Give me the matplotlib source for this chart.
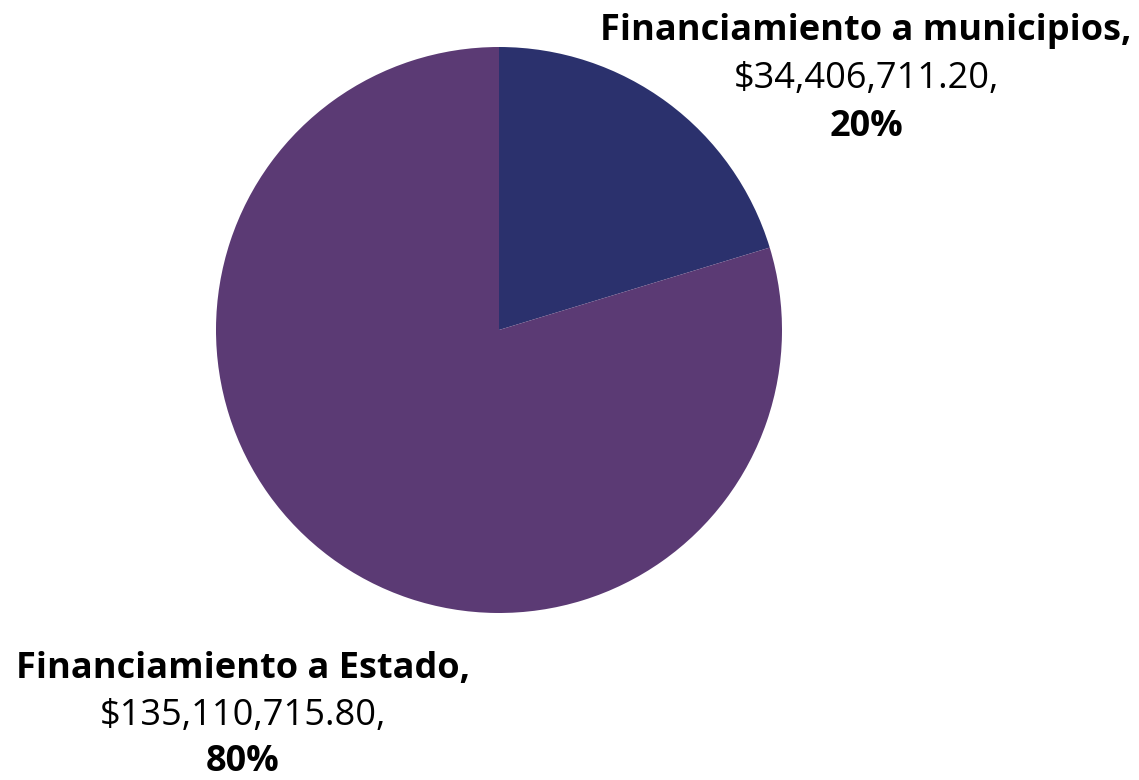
import matplotlib.pyplot as plt

# data
labels = ['Financiamiento a municipios', 'Financiamiento a Estado']
values = [34406711.20, 135110715.80]
colors = ['#2B316D', '#5B3A74']

W, H = 1139, 780
fig = plt.figure(figsize=(W / 100, H / 100), dpi=100)

# pie centre and radius in pixels
cx, cy, r = 499, 330, 283
ax = fig.add_axes([(cx - r) / W, (H - cy - r) / H, 2 * r / W, 2 * r / H])
ax.pie(values, colors=colors, startangle=90, counterclock=False, radius=1,
       wedgeprops=dict(linewidth=0))
ax.set_xlim(-1, 1)
ax.set_ylim(-1, 1)
ax.axis('off')

total = sum(values)
font = 'Open Sans'
fs = 26

# label positions (pixels: centre x, baseline of each line)
label_pos = [(866, [40, 88, 136]), (243, [678, 725, 771])]

for lab, val, (x, ys) in zip(labels, values, label_pos):
    pct = '{:.0f}%'.format(val / total * 100)
    lines = [(lab + ',', 'bold'), ('${:,.2f},'.format(val), 'normal'), (pct, 'bold')]
    for (txt, w), y in zip(lines, ys):
        fig.text(x / W, 1 - y / H, txt, ha='center', va='baseline',
                 fontsize=fs, fontweight=w, family=font, color='black')

fig.savefig('out.png', dpi=100, facecolor='white')
